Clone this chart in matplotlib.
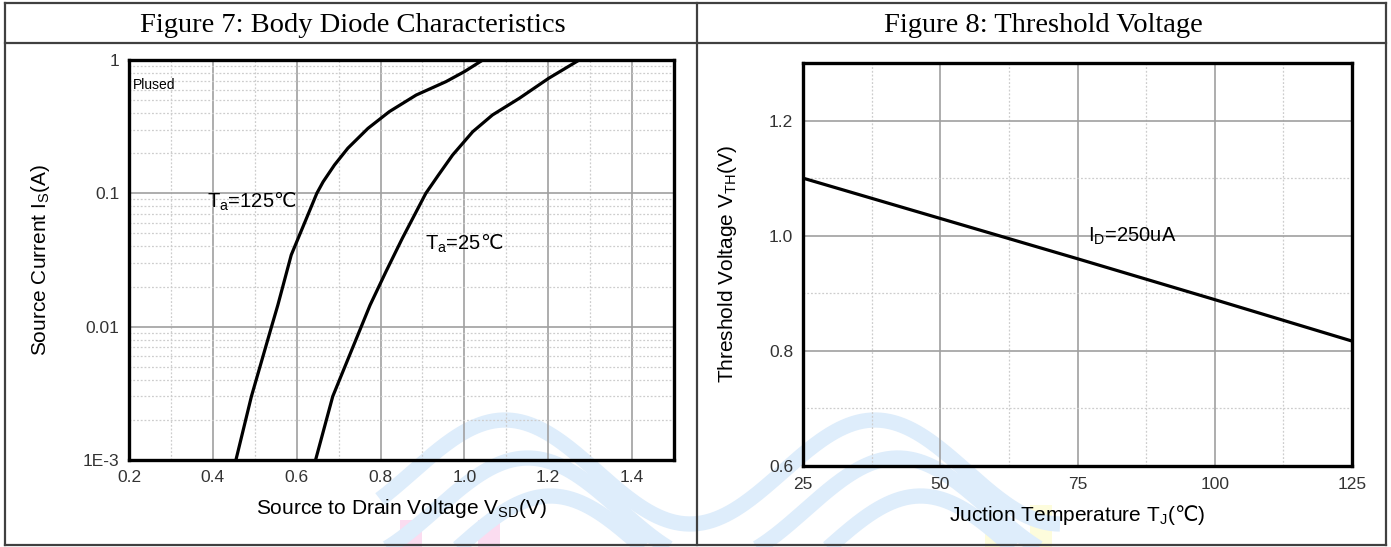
import numpy as np
import matplotlib
matplotlib.use("Agg")
import matplotlib.pyplot as plt
from matplotlib.lines import Line2D
from matplotlib.ticker import FixedLocator, LogLocator, NullFormatter

plt.rcParams["font.family"] = ["Liberation Sans", "DejaVu Sans"]
plt.rcParams["mathtext.fontset"] = "custom"
plt.rcParams["mathtext.rm"] = "DejaVu Sans"

# Figure 7: body diode, source current (A) vs V_SD (V)
is_125c = [1e-3, 3e-3, 1e-2, 0.0145, 0.0345, 0.0613, 0.1, 0.122, 0.163, 0.218,
           0.307, 0.41, 0.546, 0.688, 0.818, 1.0]
vsd_125c = [0.455, 0.492, 0.540, 0.555, 0.587, 0.620, 0.648, 0.663, 0.690, 0.722,
            0.770, 0.821, 0.885, 0.956, 1.000, 1.044]
is_25c = [1e-3, 3e-3, 1e-2, 0.0145, 0.0259, 0.046, 0.1, 0.137, 0.194, 0.29,
          0.387, 0.516, 0.729, 1.0]
vsd_25c = [0.645, 0.686, 0.754, 0.775, 0.813, 0.852, 0.908, 0.938, 0.972, 1.020,
           1.067, 1.131, 1.201, 1.274]
vsd_ticks = [0.2, 0.4, 0.6, 0.8, 1.0, 1.2, 1.4]
is_ticks = [1e-3, 1e-2, 1e-1, 1.0]
is_tick_labels = ["1E-3", "0.01", "0.1", "1"]

# Figure 8: threshold voltage vs junction temperature
tj = [25, 50, 75, 100, 125]
vth = [1.100, 1.030, 0.960, 0.889, 0.817]
vth_ticks = [0.6, 0.8, 1.0, 1.2]

W, H = 1391, 547
fig = plt.figure(figsize=(W / 100, H / 100), dpi=100)

# faint logo watermark behind everything
wm = fig.add_axes([0, 0, 1, 1], zorder=-5)
wm.set_xlim(0, W)
wm.set_ylim(H, 0)
wm.axis("off")
xs = np.linspace(380, 1060, 300)
for k in range(3):
    off = k * 38
    ys = 472 + off - 52 * np.cos((xs - 505 - off * 0.6) / 370 * 2 * np.pi)
    wm.plot(xs, ys, color="#deedfb", lw=11, solid_capstyle="butt")
for x0 in [400, 478]:
    wm.fill_between([x0, x0 + 22], 520, 547, color="#fbdcf0", lw=0)
for x0 in [985, 1030]:
    wm.fill_between([x0, x0 + 22], 505, 547, color="#fdfcdc", lw=0)

# table frame
frame = dict(color="#404040", lw=1.6)
for seg in [((5, 1386), (3, 3)), ((5, 1386), (43, 43)), ((5, 1386), (545, 545)),
            ((5, 5), (3, 545)), ((1386, 1386), (3, 545)), ((697, 697), (3, 545))]:
    wm.add_line(Line2D(seg[0], seg[1], **frame))

fig.text(353 / W, 1 - 25 / H, "Figure 7: Body Diode Characteristics",
         family="Liberation Serif", fontsize=20.5, ha="center", va="center")
fig.text(1043 / W, 1 - 25 / H, "Figure 8: Threshold Voltage",
         family="Liberation Serif", fontsize=20.5, ha="center", va="center")


def style(ax):
    ax.patch.set_alpha(0)
    for s in ax.spines.values():
        s.set_linewidth(2.4)
        s.set_color("black")
        s.set_zorder(5)
    ax.grid(which="major", color="#a0a0a0", lw=1.2, ls="-")
    ax.grid(which="minor", color="#cdcdcd", lw=0.9, ls=(0, (1.5, 1.5)))
    ax.tick_params(which="both", length=0, labelsize=12.5, colors="#333333")
    ax.set_axisbelow(True)


ax1 = fig.add_axes([129 / W, 1 - 460 / H, 545 / W, 400 / H])
style(ax1)
ax1.set_yscale("log")
ax1.plot(vsd_125c, is_125c, color="black", lw=2.3, solid_joinstyle="round")
ax1.plot(vsd_25c, is_25c, color="black", lw=2.3, solid_joinstyle="round")
ax1.set_xlim(0.2, 1.5)
ax1.set_ylim(1e-3, 1)
ax1.xaxis.set_major_locator(FixedLocator(vsd_ticks))
ax1.xaxis.set_minor_locator(FixedLocator([0.3, 0.5, 0.7, 0.9, 1.1, 1.3]))
ax1.set_xticklabels([f"{v:.1f}" for v in vsd_ticks])
ax1.yaxis.set_major_locator(FixedLocator(is_ticks))
ax1.set_yticklabels(is_tick_labels)
ax1.yaxis.set_minor_locator(LogLocator(base=10, subs=np.arange(2, 10)))
ax1.yaxis.set_minor_formatter(NullFormatter())
ax1.tick_params(axis="x", pad=7)
ax1.tick_params(axis="y", pad=7)
ax1.set_xlabel(r"Source to Drain Voltage V$_\mathregular{SD}$(V)", fontsize=15, va="center")
ax1.set_ylabel(r"Source Current I$_\mathregular{S}$(A)", fontsize=15, va="center")
ax1.xaxis.set_label_coords(0.5, -0.12)
ax1.yaxis.set_label_coords(-0.163, 0.5)
ax1.text(0.2095, 0.65, "Plused", fontsize=10, va="center", ha="left")
ax1.text(0.386, 0.0776, r"T$_\mathregular{a}$=125$\mathrm{℃}$", fontsize=14.5, va="baseline", ha="left")
ax1.text(0.906, 0.0376, r"T$_\mathregular{a}$=25$\mathrm{℃}$", fontsize=14.5, va="baseline", ha="left")

ax2 = fig.add_axes([803 / W, 1 - 466 / H, 549 / W, 403 / H])
style(ax2)
ax2.plot(tj, vth, color="black", lw=2.3)
ax2.set_xlim(25, 125)
ax2.set_ylim(0.6, 1.3)
ax2.xaxis.set_major_locator(FixedLocator(tj))
ax2.xaxis.set_minor_locator(FixedLocator([37.5, 62.5, 87.5, 112.5]))
ax2.yaxis.set_major_locator(FixedLocator(vth_ticks))
ax2.yaxis.set_minor_locator(FixedLocator([0.7, 0.9, 1.1]))
ax2.set_yticklabels([f"{v:.1f}" for v in vth_ticks])
ax2.tick_params(axis="x", pad=8)
ax2.tick_params(axis="y", pad=7)
ax2.set_xlabel(r"Juction Temperature T$_\mathregular{J}$($\mathrm{℃}$)", fontsize=15, va="center")
ax2.set_ylabel(r"Threshold Voltage V$_\mathregular{TH}$(V)", fontsize=15, va="center")
ax2.xaxis.set_label_coords(0.5, -0.122)
ax2.yaxis.set_label_coords(-0.137, 0.5)
ax2.text(77, 0.99, r"I$_\mathregular{D}$=250uA", fontsize=14.5, va="baseline", ha="left")

fig.savefig("out.png", dpi=100)
